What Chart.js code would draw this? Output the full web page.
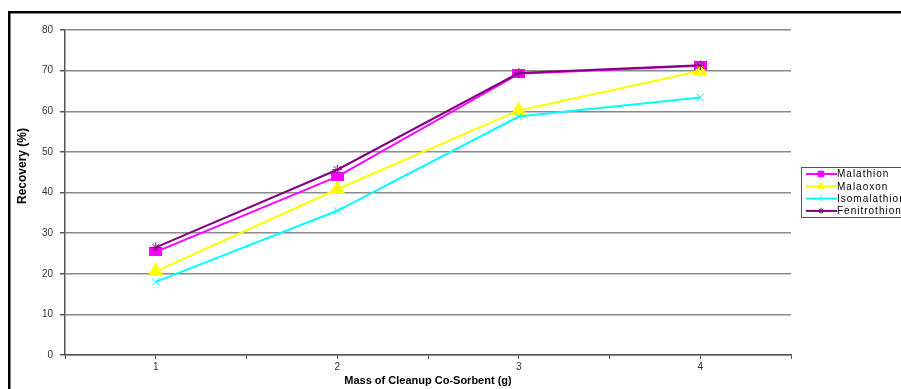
<!DOCTYPE html>
<html>
<head>
<meta charset="utf-8">
<title>Recovery vs Mass of Cleanup Co-Sorbent</title>
<script src="https://cdn.jsdelivr.net/npm/chart.js@4.4.1/dist/chart.umd.min.js"></script>
<style>
  html, body { margin: 0; padding: 0; background: #ffffff; }
  #wrap { width: 901px; height: 389px; position: relative; }
</style>
</head>
<body>
<div id="wrap"><canvas id="recoveryChart" width="901" height="389"></canvas></div>
<script>
// mass of co-sorbent (g)
const masses = [1, 2, 3, 4];
const seriesNames = ['Malathion', 'Malaoxon', 'Isomalathion', 'Fenitrothion'];
// recovery (%)
const malathion = [25.4, 43.9, 69.2, 71.2];
const malaoxon = [20.6, 40.8, 60.2, 69.9];
const isomalathion = [18.0, 35.5, 58.7, 63.4];
const fenitrothion = [26.5, 45.6, 69.4, 71.3];
const yTicks = [0, 10, 20, 30, 40, 50, 60, 70, 80];

const seriesValues = [malathion, malaoxon, isomalathion, fenitrothion];
const seriesColors = ['#ff00ff', '#ffff00', '#00ffff', '#800080'];

// wide magenta block used as the Malathion marker
function blockMarker(w, h, color) {
    const c = document.createElement('canvas');
    c.width = w;
    c.height = h;
    const g = c.getContext('2d');
    g.fillStyle = color;
    g.fillRect(0, 0, w, h);
    return c;
}

const markerStyles = [
    { pointStyle: blockMarker(13, 9, '#ff00ff'), pointRadius: 6 },
    { pointStyle: 'triangle', pointRadius: 7 },
    { pointStyle: 'crossRot', pointRadius: 5, pointBorderWidth: 1 },
    { pointStyle: 'star', pointRadius: 5, pointBorderWidth: 1 }
];
// smaller versions for the legend keys
const legendMarkers = [
    { pointStyle: 'rect', radius: 4 },
    { pointStyle: 'triangle', radius: 4 },
    { pointStyle: 'cross', radius: 3 },
    { pointStyle: 'star', radius: 3 }
];

const datasets = seriesNames.map(function(name, i) {
    return Object.assign({
        label: name,
        data: masses.map(function(m, j) { return { x: m, y: seriesValues[i][j] }; }),
        borderColor: seriesColors[i],
        backgroundColor: seriesColors[i],
        pointBackgroundColor: seriesColors[i],
        pointBorderColor: seriesColors[i],
        borderWidth: 2,
        tension: 0,
        order: 4 - i
    }, markerStyles[i]);
});

// frame, axis titles and the boxed legend
const decorations = {
    id: 'decorations',
    beforeDraw(chart) {
        const ctx = chart.ctx;
        ctx.save();
        ctx.fillStyle = '#ffffff';
        ctx.fillRect(0, 0, chart.width, chart.height);
        ctx.fillStyle = '#000000';
        ctx.fillRect(8, 11, 2.5, chart.height - 11);
        ctx.fillRect(8, 11, chart.width - 8, 2.5);
        ctx.restore();
    },
    afterDraw(chart) {
        const ctx = chart.ctx;
        const area = chart.chartArea;
        ctx.save();
        ctx.fillStyle = '#000000';
        ctx.font = 'bold 11px "Liberation Sans", Arial, sans-serif';
        ctx.textAlign = 'center';
        ctx.textBaseline = 'middle';
        ctx.fillText('Mass of Cleanup Co-Sorbent (g)', (area.left + area.right) / 2, 381);

        ctx.translate(23, 166);
        ctx.rotate(-Math.PI / 2);
        ctx.font = 'bold 12px "Liberation Sans Narrow", "Liberation Sans", Arial, sans-serif';
        ctx.fillText('Recovery (%)', 0, 0);
        ctx.restore();

        // legend
        ctx.save();
        const lx = 801, ly = 167, lw = 110, lh = 50, step = 12.3;
        ctx.fillStyle = '#ffffff';
        ctx.fillRect(lx, ly, lw, lh);
        ctx.strokeStyle = '#555555';
        ctx.lineWidth = 1;
        ctx.strokeRect(lx + 0.5, ly + 0.5, lw, lh);
        ctx.font = '10px "Liberation Sans", Arial, sans-serif';
        ctx.letterSpacing = '1px';
        ctx.textAlign = 'left';
        ctx.textBaseline = 'middle';
        chart.data.datasets.forEach(function(ds, i) {
            const y = ly + 7 + i * step;
            ctx.strokeStyle = ds.borderColor;
            ctx.fillStyle = ds.backgroundColor;
            ctx.lineWidth = 2;
            ctx.beginPath();
            ctx.moveTo(806, y);
            ctx.lineTo(837, y);
            ctx.stroke();
            ctx.lineWidth = 1;
            Chart.helpers.drawPoint(ctx, {
                pointStyle: legendMarkers[i].pointStyle,
                radius: legendMarkers[i].radius,
                borderWidth: 1,
                rotation: 0
            }, 821, y);
            ctx.fillStyle = '#000000';
            ctx.fillText(ds.label, 837, y + 0.5);
        });
        ctx.restore();
    }
};

const chart = new Chart(document.getElementById('recoveryChart'), {
    type: 'line',
    data: { datasets: datasets },
    options: {
        responsive: false,
        animation: false,
        layout: { padding: { left: 0, top: 30, right: 110, bottom: 0 } },
        plugins: {
            legend: { display: false },
            tooltip: { enabled: false }
        },
        scales: {
            x: {
                type: 'linear',
                min: 0.5,
                max: 4.5,
                afterFit(scale) { scale.height = 34; },
                afterBuildTicks(scale) {
                    const t = [];
                    for (let v = 0.5; v <= 4.5; v += 0.5) t.push({ value: v });
                    scale.ticks = t;
                },
                ticks: {
                    color: '#333333',
                    font: { size: 10, family: '"Liberation Sans", Arial, sans-serif' },
                    padding: 2,
                    maxRotation: 0,
                    autoSkip: false,
                    callback: function(v) {
                        return masses.indexOf(v) >= 0 ? String(v) : '';
                    }
                },
                grid: {
                    drawOnChartArea: false,
                    color: '#555555',
                    tickLength: 4,
                    lineWidth: 1
                },
                border: { color: '#555555', width: 1.5 }
            },
            y: {
                min: 0,
                max: 80,
                afterFit(scale) { scale.width = 65; },
                afterBuildTicks(scale) {
                    scale.ticks = yTicks.map(function(v) { return { value: v }; });
                },
                ticks: {
                    color: '#333333',
                    font: { size: 10, family: '"Liberation Sans", Arial, sans-serif' },
                    padding: 7
                },
                grid: {
                    color: '#8a8a8a',
                    lineWidth: 1.5,
                    tickLength: 5,
                    tickColor: '#555555'
                },
                border: { color: '#555555', width: 1.5 }
            }
        }
    },
    plugins: [decorations]
});
</script>
</body>
</html>
